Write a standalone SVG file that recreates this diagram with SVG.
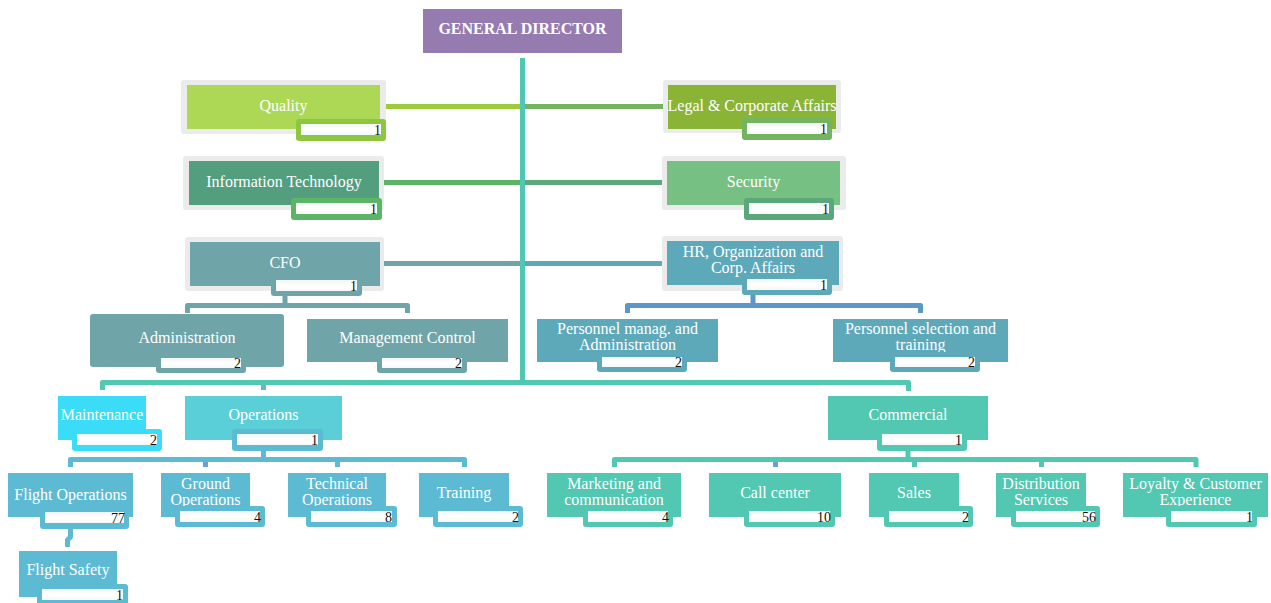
<svg xmlns="http://www.w3.org/2000/svg" width="1271" height="603" viewBox="0 0 1271 603">
  <defs>
    <linearGradient id="badgeFill" x1="0" y1="0" x2="0" y2="1">
      <stop offset="0" stop-color="#f2f6f5"/>
      <stop offset="0.5" stop-color="#ffffff"/>
      <stop offset="1" stop-color="#f6f9f8"/>
    </linearGradient>
  </defs>
  <style>
    .frame { fill: #ebebeb; }
    .label { font-family: "Liberation Serif", "Times New Roman", serif; font-size: 16px; fill: #ffffff; text-anchor: middle; }
    .title { font-family: "Liberation Serif", "Times New Roman", serif; font-size: 16px; font-weight: bold; fill: #ffffff; text-anchor: middle; }
    .count { font-family: "Liberation Serif", "Times New Roman", serif; font-size: 14px; fill: #111111; text-anchor: end; }
    .inner { fill: url(#badgeFill); }
    .line { fill: none; stroke-width: 5; stroke-linejoin: round; }
  </style>

  <rect width="1271" height="603" fill="#ffffff"/>

  <!-- connectors -->
  <g id="connectors">
    <line class="line" x1="386" y1="106.5" x2="522" y2="106.5" stroke="#9dcb3b"/>
    <line class="line" x1="522" y1="106.5" x2="663" y2="106.5" stroke="#74b360"/>
    <line class="line" x1="384" y1="182.5" x2="522" y2="182.5" stroke="#5cb566"/>
    <line class="line" x1="522" y1="182.5" x2="662" y2="182.5" stroke="#5aa87b"/>
    <line class="line" x1="384" y1="263.5" x2="522" y2="263.5" stroke="#6fa5a8"/>
    <line class="line" x1="522" y1="263.5" x2="662" y2="263.5" stroke="#5da9b9"/>
    <!-- CFO branch -->
    <path class="line" d="M285 295 V305.5 M187.5 313 V305.5 H407.5 V313" stroke="#6fa5a8"/>
    <!-- HR branch -->
    <path class="line" d="M753 294 V305.5 M627.5 313 V305.5 H920.5 V313" stroke="#5b97c8"/>
    <!-- main lower bar -->
    <path class="line" d="M102.5 390 V382.5 H908.5 V391" stroke="#52c7b1"/>
    <line class="line" x1="263.5" y1="385" x2="263.5" y2="390" stroke="#6ab0d8"/>
    <!-- Operations branch -->
    <path class="line" d="M263.5 450 V459.5 M70.5 467 V459.5 H464.5 V467 M337.5 459.5 V467" stroke="#5cbbd3"/>
    <line class="line" x1="205.5" y1="462" x2="205.5" y2="467" stroke="#6a9fd8"/>
    <path class="line" d="M70.5 528 V537 L67.5 540 V547" stroke="#5cbbd3"/>
    <!-- Commercial branch -->
    <path class="line" d="M908 450 V459.5 M614.5 467 V459.5 H1196 V467 M914.5 459.5 V467 M1041.5 459.5 V467" stroke="#52c7b1"/>
    <line class="line" x1="775.5" y1="462" x2="775.5" y2="467" stroke="#6a9fd8"/>
    <!-- central trunk -->
    <line class="line" x1="522.5" y1="58" x2="522.5" y2="385" stroke="#4fc7b1"/>
  </g>

  <g id="general-director">
    <rect x="423" y="9" width="199" height="44" fill="#967bb0"/>
    <text class="title" x="522.5" y="34">GENERAL DIRECTOR</text>
  </g>

  <g id="quality">
    <rect class="frame" x="181" y="80" width="205" height="54" rx="3"/>
    <rect x="187" y="85" width="193" height="44" fill="#add856"/>
    <text class="label" x="283.5" y="111">Quality</text>
    <rect x="296" y="119" width="90" height="22" rx="3" fill="#8dc63f"/>
    <rect class="inner" x="301" y="124" width="80" height="11"/>
    <text class="count" x="381" y="135">1</text>
  </g>

  <g id="legal">
    <rect class="frame" x="663" y="80" width="178" height="53" rx="3"/>
    <rect x="668" y="85" width="168" height="44" fill="#8ab436"/>
    <text class="label" x="752" y="111">Legal &amp; Corporate Affairs</text>
    <rect x="742" y="118" width="90" height="22" rx="3" fill="#74b45f"/>
    <rect class="inner" x="747" y="123" width="80" height="11"/>
    <text class="count" x="827" y="134">1</text>
  </g>

  <g id="information-technology">
    <rect class="frame" x="183" y="156" width="201" height="54" rx="3"/>
    <rect x="189" y="161" width="190" height="44" fill="#529e7f"/>
    <text class="label" x="284" y="187">Information Technology</text>
    <rect x="291" y="198" width="91" height="22" rx="3" fill="#5cb566"/>
    <rect class="inner" x="296" y="203" width="81" height="11"/>
    <text class="count" x="377" y="214">1</text>
  </g>

  <g id="security">
    <rect class="frame" x="662" y="156" width="184" height="54" rx="3"/>
    <rect x="667" y="161" width="173" height="44" fill="#77c084"/>
    <text class="label" x="753.5" y="187">Security</text>
    <rect x="744" y="198" width="90" height="22" rx="3" fill="#5aa77b"/>
    <rect class="inner" x="749" y="203" width="80" height="11"/>
    <text class="count" x="829" y="214">1</text>
  </g>

  <g id="cfo">
    <rect class="frame" x="185" y="237" width="199" height="54" rx="3"/>
    <rect x="190" y="242" width="190" height="44" fill="#6fa5a8"/>
    <text class="label" x="285" y="268">CFO</text>
    <rect x="271" y="275" width="91" height="21" rx="3" fill="#6fa5a8"/>
    <rect class="inner" x="276" y="280" width="81" height="11"/>
    <text class="count" x="357" y="291">1</text>
  </g>

  <g id="hr">
    <rect class="frame" x="662" y="236" width="181" height="55" rx="3"/>
    <rect x="667" y="241" width="172" height="44" fill="#5da9b9"/>
    <text class="label" x="753" y="257">HR, Organization and</text>
    <text class="label" x="753" y="273">Corp. Affairs</text>
    <rect x="742" y="274" width="90" height="21" rx="3" fill="#5da9b9"/>
    <rect class="inner" x="747" y="279" width="80" height="11"/>
    <text class="count" x="827" y="290">1</text>
  </g>

  <g id="administration">
    <rect x="90" y="314" width="194" height="53" rx="3" fill="#6fa5a8"/>
    <text class="label" x="187" y="343">Administration</text>
    <rect x="156" y="353" width="90" height="20" rx="3" fill="#6fa5a8"/>
    <rect class="inner" x="161" y="358" width="80" height="10"/>
    <text class="count" x="241" y="368">2</text>
  </g>

  <g id="management-control">
    <rect x="307" y="319" width="201" height="43" fill="#6fa5a8"/>
    <text class="label" x="407.5" y="343">Management Control</text>
    <rect x="377" y="353" width="90" height="20" rx="3" fill="#6fa5a8"/>
    <rect class="inner" x="382" y="358" width="80" height="10"/>
    <text class="count" x="462" y="368">2</text>
  </g>

  <g id="personnel-administration">
    <rect x="537" y="319" width="181" height="43" fill="#5da9b9"/>
    <text class="label" x="627.5" y="334">Personnel manag. and</text>
    <text class="label" x="627.5" y="350">Administration</text>
    <rect x="597" y="352" width="90" height="20" rx="3" fill="#5da9b9"/>
    <rect class="inner" x="602" y="357" width="80" height="10"/>
    <text class="count" x="682" y="367">2</text>
  </g>

  <g id="personnel-selection">
    <rect x="833" y="319" width="175" height="43" fill="#5da9b9"/>
    <text class="label" x="920.5" y="334">Personnel selection and</text>
    <text class="label" x="920.5" y="350">training</text>
    <rect x="890" y="352" width="90" height="20" rx="3" fill="#5da9b9"/>
    <rect class="inner" x="895" y="357" width="80" height="10"/>
    <text class="count" x="975" y="367">2</text>
  </g>

  <g id="maintenance">
    <rect x="58" y="396" width="88" height="44" fill="#3adcf8"/>
    <text class="label" x="102" y="420">Maintenance</text>
    <rect x="72" y="429" width="90" height="22" rx="3" fill="#3adcf8"/>
    <rect class="inner" x="77" y="434" width="80" height="11"/>
    <text class="count" x="157" y="445">2</text>
  </g>

  <g id="operations">
    <rect x="185" y="396" width="157" height="44" fill="#5acfd7"/>
    <text class="label" x="263.5" y="420">Operations</text>
    <rect x="232" y="429" width="91" height="22" rx="3" fill="#5cbbd3"/>
    <rect class="inner" x="237" y="434" width="81" height="11"/>
    <text class="count" x="318" y="445">1</text>
  </g>

  <g id="commercial">
    <rect x="828" y="396" width="160" height="44" fill="#52c7b1"/>
    <text class="label" x="908" y="420">Commercial</text>
    <rect x="877" y="429" width="90" height="22" rx="3" fill="#52c7b1"/>
    <rect class="inner" x="882" y="434" width="80" height="11"/>
    <text class="count" x="962" y="445">1</text>
  </g>

  <g id="flight-operations">
    <rect x="8" y="473" width="125" height="44" fill="#5cbbd3"/>
    <text class="label" x="70.5" y="500">Flight Operations</text>
    <rect x="40" y="507" width="89" height="22" rx="3" fill="#5cbbd3"/>
    <rect class="inner" x="45" y="512" width="79" height="11"/>
    <text class="count" x="125" y="523">77</text>
  </g>

  <g id="ground-operations">
    <rect x="161" y="473" width="89" height="44" fill="#5cbbd3"/>
    <text class="label" x="205.5" y="489">Ground</text>
    <text class="label" x="205.5" y="505">Operations</text>
    <rect x="175" y="506" width="90" height="21" rx="3" fill="#5cbbd3"/>
    <rect class="inner" x="180" y="511" width="80" height="11"/>
    <text class="count" x="261" y="522">4</text>
  </g>

  <g id="technical-operations">
    <rect x="288" y="473" width="98" height="44" fill="#5cbbd3"/>
    <text class="label" x="337" y="489">Technical</text>
    <text class="label" x="337" y="505">Operations</text>
    <rect x="306" y="506" width="91" height="21" rx="3" fill="#5cbbd3"/>
    <rect class="inner" x="311" y="511" width="81" height="11"/>
    <text class="count" x="392" y="522">8</text>
  </g>

  <g id="training">
    <rect x="419" y="473" width="90" height="44" fill="#5cbbd3"/>
    <text class="label" x="464" y="498">Training</text>
    <rect x="433" y="506" width="90" height="21" rx="3" fill="#5cbbd3"/>
    <rect class="inner" x="438" y="511" width="80" height="11"/>
    <text class="count" x="519" y="522">2</text>
  </g>

  <g id="flight-safety">
    <rect x="19" y="551" width="98" height="46" fill="#5cbbd3"/>
    <text class="label" x="68" y="575">Flight Safety</text>
    <rect x="37" y="584" width="91" height="22" rx="3" fill="#5cbbd3"/>
    <rect class="inner" x="42" y="589" width="81" height="11"/>
    <text class="count" x="123" y="600">1</text>
  </g>

  <g id="marketing">
    <rect x="547" y="473" width="134" height="44" fill="#52c7b1"/>
    <text class="label" x="614" y="489">Marketing and</text>
    <text class="label" x="614" y="505">communication</text>
    <rect x="583" y="506" width="90" height="21" rx="3" fill="#52c7b1"/>
    <rect class="inner" x="588" y="511" width="80" height="11"/>
    <text class="count" x="669" y="522">4</text>
  </g>

  <g id="call-center">
    <rect x="709" y="473" width="132" height="44" fill="#52c7b1"/>
    <text class="label" x="775" y="498">Call center</text>
    <rect x="744" y="506" width="91" height="21" rx="3" fill="#52c7b1"/>
    <rect class="inner" x="749" y="511" width="81" height="11"/>
    <text class="count" x="831" y="522">10</text>
  </g>

  <g id="sales">
    <rect x="869" y="473" width="90" height="44" fill="#52c7b1"/>
    <text class="label" x="914" y="498">Sales</text>
    <rect x="884" y="506" width="89" height="21" rx="3" fill="#52c7b1"/>
    <rect class="inner" x="889" y="511" width="79" height="11"/>
    <text class="count" x="969" y="522">2</text>
  </g>

  <g id="distribution">
    <rect x="996" y="473" width="90" height="44" fill="#52c7b1"/>
    <text class="label" x="1041" y="489">Distribution</text>
    <text class="label" x="1041" y="505">Services</text>
    <rect x="1011" y="506" width="89" height="21" rx="3" fill="#52c7b1"/>
    <rect class="inner" x="1016" y="511" width="79" height="11"/>
    <text class="count" x="1096" y="522">56</text>
  </g>

  <g id="loyalty">
    <rect x="1123" y="473" width="145" height="44" fill="#52c7b1"/>
    <text class="label" x="1195.5" y="489">Loyalty &amp; Customer</text>
    <text class="label" x="1195.5" y="505">Experience</text>
    <rect x="1166" y="506" width="91" height="21" rx="3" fill="#52c7b1"/>
    <rect class="inner" x="1171" y="511" width="81" height="11"/>
    <text class="count" x="1253" y="522">1</text>
  </g>
</svg>
